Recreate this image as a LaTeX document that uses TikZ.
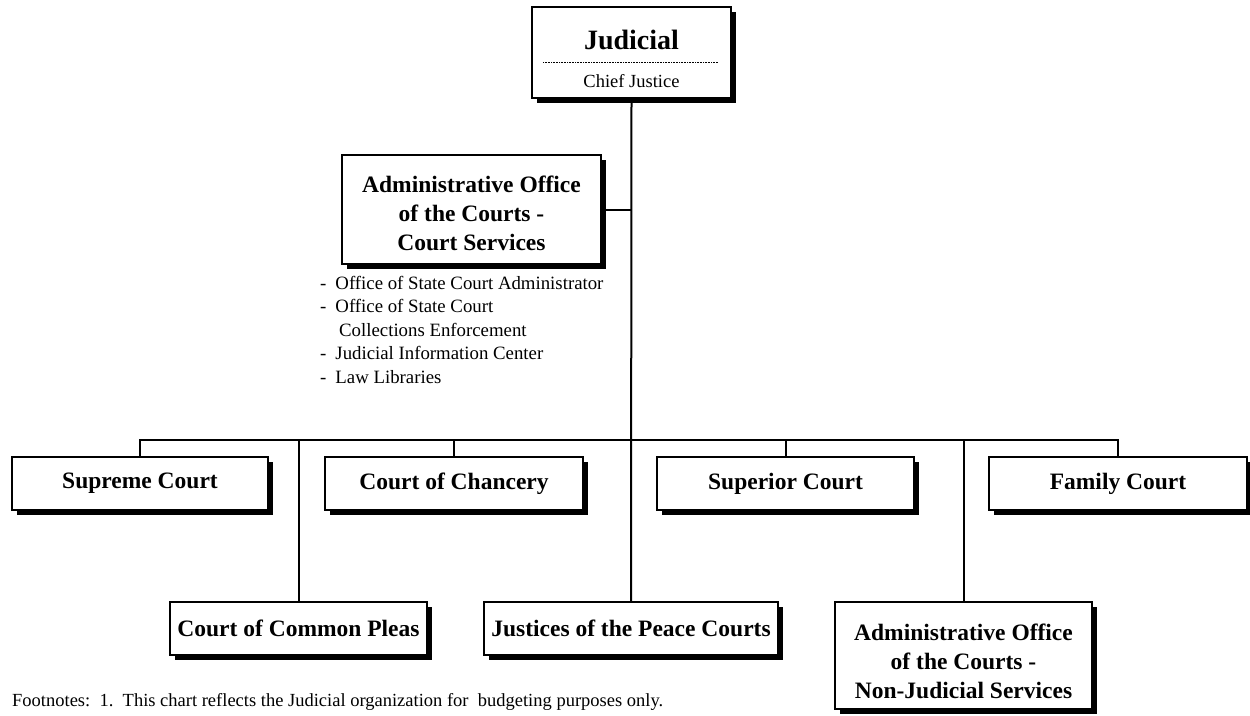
\documentclass[tikz,border=0pt]{standalone}
\usepackage{fontspec}
\setmainfont{Liberation Serif}
\usetikzlibrary{positioning,shadows}

\tikzset{
  orgbox/.style={draw,line width=2pt,fill=white,align=center,inner sep=0pt,
    font=\bfseries\fontsize{23.5}{29}\selectfont,
    drop shadow={shadow xshift=5pt,shadow yshift=-5pt,fill=black,opacity=1}},
  wire/.style={line width=2pt}
}

\begin{document}
\begin{tikzpicture}[x=1pt,y=-1pt]
  \useasboundingbox (0,0) rectangle (1250,715);
  % top of the chart
  \node[orgbox,minimum width=199pt,minimum height=91pt] (jud) at (631.5,52.5) {};
  \node[font=\bfseries\fontsize{28}{30}\selectfont] (judtitle) at (631.5,40) {Judicial};
  \node[font=\fontsize{18.5}{20}\selectfont] (judsub) at (631.5,81) {Chief Justice};
  \coordinate (rulel) at (543,62);
  \coordinate (ruler) at (718,62);
  \draw[line width=0.6pt,dash pattern=on 1pt off 0.6pt] (rulel) -- (ruler);

  \node[orgbox,minimum width=259pt,minimum height=109pt] (aoc) at (471.5,209.5)
    {\rule{0pt}{24pt}Administrative Office\\of the Courts -\\Court Services};
  \node[anchor=north west,align=left,inner sep=0pt,
    font=\fontsize{18.8}{23.5}\selectfont] (aoclist) at (320,276)
    {-\hspace{9pt}Office of State Court Administrator\\
     -\hspace{9pt}Office of State Court\\
     \hspace{19pt}Collections Enforcement\\
     -\hspace{9pt}Judicial Information Center\\
     -\hspace{9pt}Law Libraries};

  % courts, first row
  \node[orgbox,minimum width=256pt,minimum height=53pt] (supc) at (140,483.5) {Supreme Court};
  \node[orgbox,minimum width=258pt,minimum height=53pt] (chan) at (454,483.5) {Court of Chancery};
  \node[orgbox,minimum width=257pt,minimum height=53pt] (supr) at (785.5,483.5) {Superior Court};
  \node[orgbox,minimum width=258pt,minimum height=53pt] (fam) at (1118,483.5) {Family Court};

  % courts, second row
  \node[orgbox,minimum width=257pt,minimum height=53pt] (ccp) at (298.5,628.5) {Court of Common Pleas};
  \node[orgbox,minimum width=294pt,minimum height=53pt] (jpc) at (631,628.5) {Justices of the Peace Courts};
  \node[orgbox,minimum width=257pt,minimum height=107pt] (nonjud) at (963.5,655.5)
    {\rule{0pt}{28pt}Administrative Office\\of the Courts -\\Non-Judicial Services};

  \coordinate (bus) at (631,440);

  \draw[wire] (jud.south) -- (jpc.north);
  \draw[wire] (aoc.east) -- (aoc.east -| jud.south);
  \draw[wire] (supc.north) |- (bus) -| (fam.north);
  \draw[wire] (chan.north) -- (chan.north |- bus);
  \draw[wire] (supr.north) -- (supr.north |- bus);
  \draw[wire] (ccp.north) -- (ccp.north |- bus);
  \draw[wire] (nonjud.north) -- (nonjud.north |- bus);

  \node[anchor=west,inner sep=0pt,font=\fontsize{18.5}{20}\selectfont] (foot) at (12,702)
    {Footnotes:\ \ 1.\ \ This chart reflects the Judicial organization for\ \ budgeting purposes only.};
\end{tikzpicture}
\end{document}
